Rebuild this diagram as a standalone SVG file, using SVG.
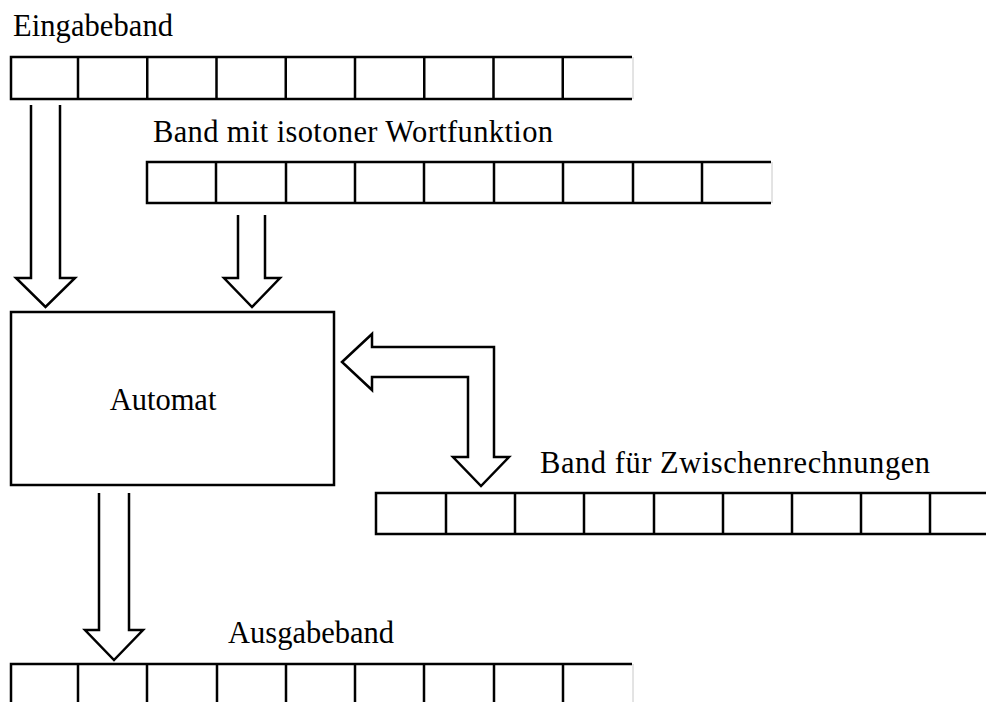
<svg xmlns="http://www.w3.org/2000/svg" width="986" height="702" viewBox="0 0 986 702">
  <style>
    .line { fill: none; stroke: #000; stroke-width: 2.5; stroke-linejoin: miter; }
    .arrow { fill: #fff; stroke: #000; stroke-width: 2.5; stroke-linejoin: miter; }
    .end { stroke: #c8c8c8; stroke-width: 1; }
    .label { font-family: "Liberation Serif", "Times New Roman", serif; font-size: 30.5px; fill: #000; }
  </style>
  <rect width="986" height="702" fill="#fff"/>

  <!-- input tape -->
  <g id="eingabeband">
    <text class="label" x="13" y="36" textLength="160" lengthAdjust="spacing">Eingabeband</text>
    <path class="line" d="M632,57 H11 V99 H632 M78,57 V99 M147.25,57 V99 M216.5,57 V99 M285.75,57 V99 M355,57 V99 M424.25,57 V99 M493.5,57 V99 M562.75,57 V99"/>
    <line class="end" x1="633" y1="57" x2="633" y2="99"/>
  </g>

  <!-- tape with isotone word function -->
  <g id="band-isoton">
    <text class="label" x="153" y="142" textLength="400" lengthAdjust="spacing">Band mit isotoner Wortfunktion</text>
    <path class="line" d="M771,162 H147 V203 H771 M216,162 V203 M286,162 V203 M355,162 V203 M424,162 V203 M494,162 V203 M563,162 V203 M633,162 V203 M702,162 V203"/>
    <line class="end" x1="772" y1="162" x2="772" y2="203"/>
  </g>

  <!-- automaton -->
  <g id="automat">
    <rect class="line" x="11" y="312" width="323" height="173"/>
    <text class="label" x="163" y="410" text-anchor="middle">Automat</text>
  </g>

  <!-- work tape -->
  <g id="band-zwischen">
    <text class="label" x="540" y="473" textLength="390" lengthAdjust="spacing">Band für Zwischenrechnungen</text>
    <path class="line" d="M990,493 H376 V534 H990 M446,493 V534 M515,493 V534 M584,493 V534 M654,493 V534 M723,493 V534 M792,493 V534 M861,493 V534 M930,493 V534"/>
  </g>

  <!-- output tape -->
  <g id="ausgabeband">
    <text class="label" x="228" y="643">Ausgabeband</text>
    <path class="line" d="M632,664 H11 V706 M78,664 V706 M147,664 V706 M217,664 V706 M286,664 V706 M355,664 V706 M424,664 V706 M494,664 V706 M563,664 V706"/>
    <line class="end" x1="633" y1="664" x2="633" y2="702"/>
  </g>

  <!-- block arrows -->
  <g id="connectors">
    <path class="arrow" d="M31,105 V278 H16 L45.5,307 L75,278 H60 V105"/>
    <path class="arrow" d="M238,215 V278 H224 L252,307 L280,278 H265 V215"/>
    <path class="arrow" d="M99,493 V630 H85 L114,660 L143,630 H129 V493"/>
    <path class="arrow" d="M342,362 L372,334 V347 H494 V457 H509 L481,486 L453,457 H468 V377 H372 V390 Z"/>
  </g>
</svg>
